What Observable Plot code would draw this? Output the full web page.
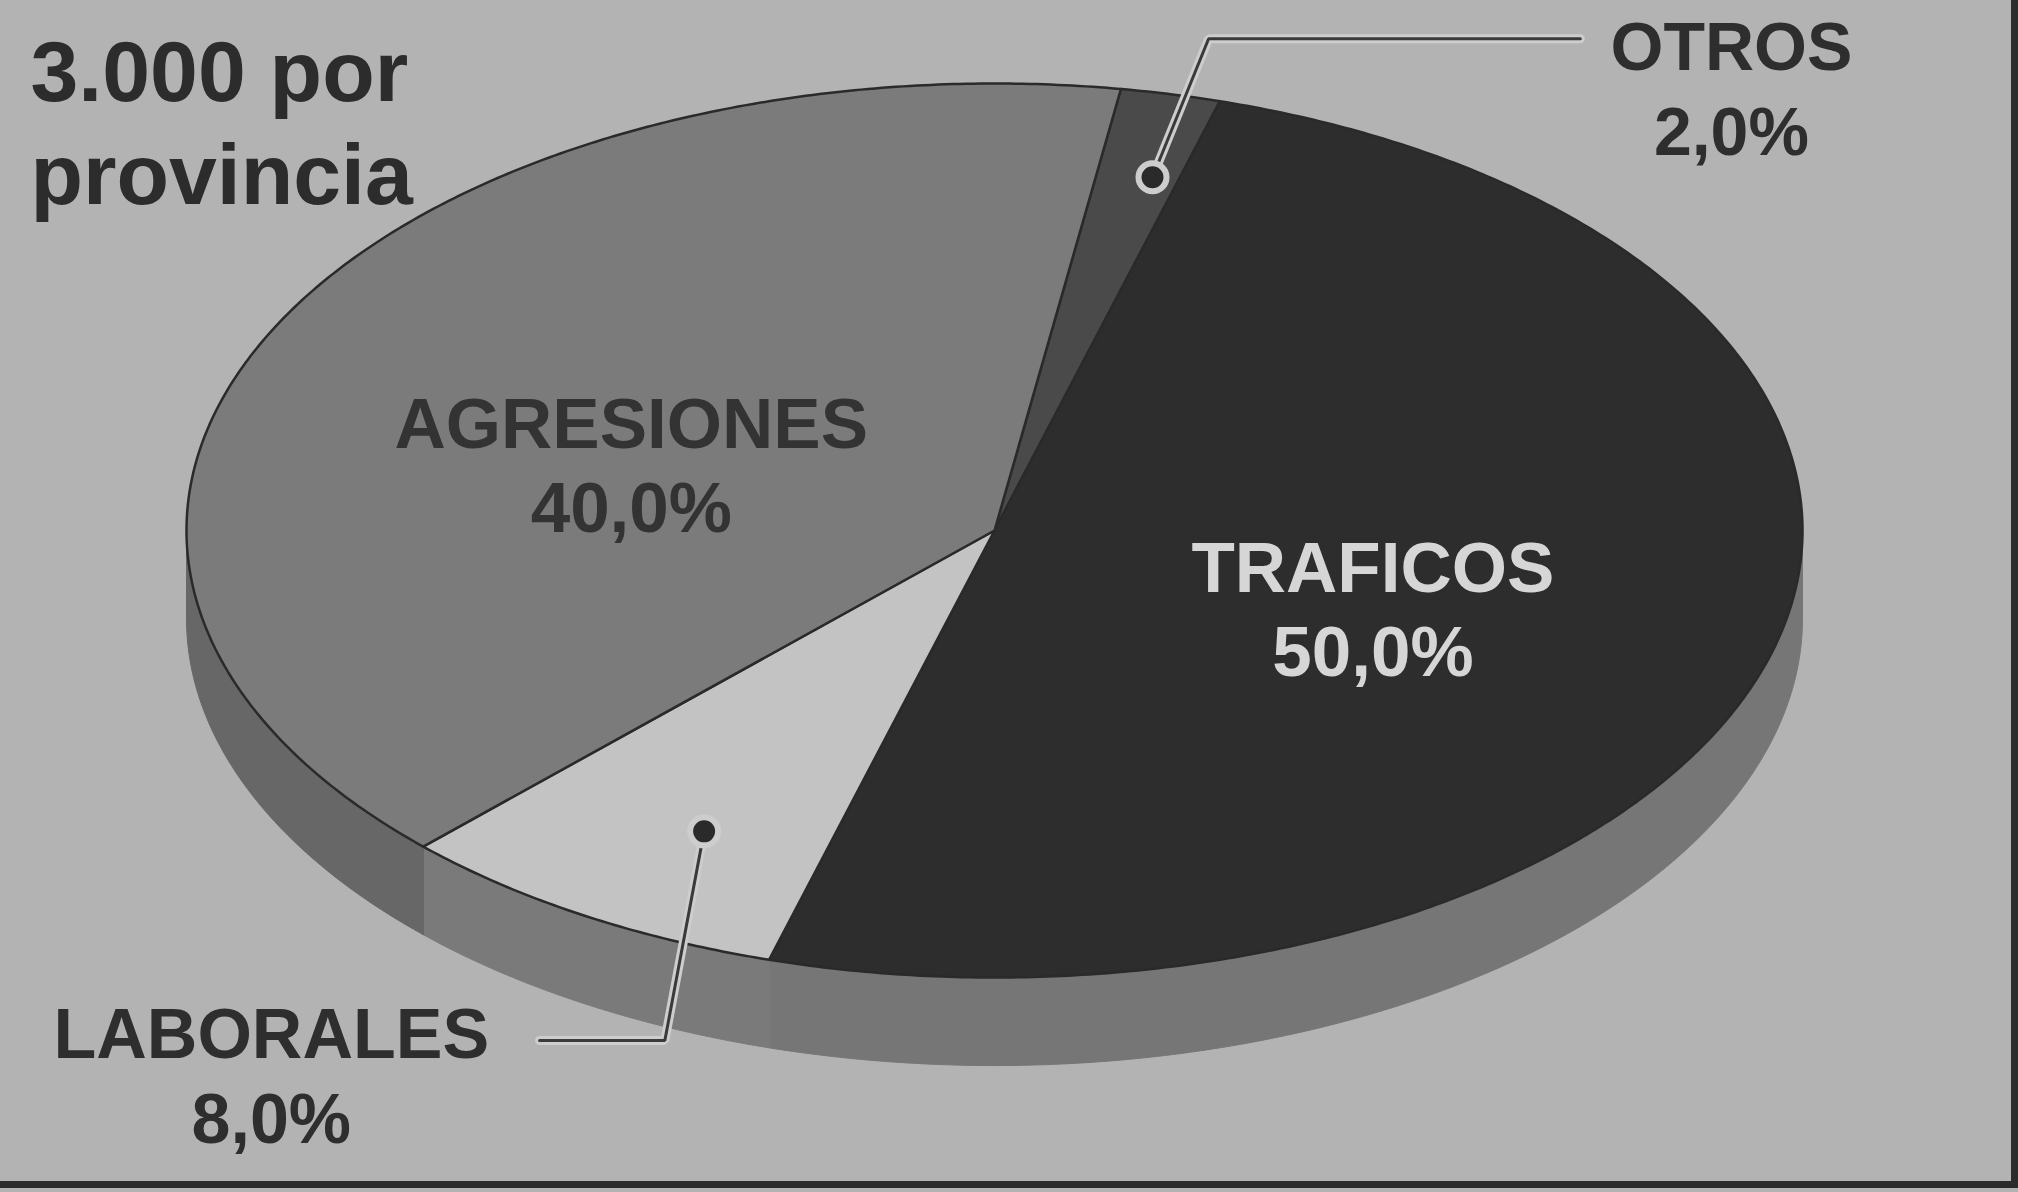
<!DOCTYPE html>
<html>
<head>
<meta charset="utf-8">
<script src="https://cdn.jsdelivr.net/npm/d3@7"></script>
<script src="https://cdn.jsdelivr.net/npm/@observablehq/plot@0.6"></script>
<style>
  html, body { margin: 0; padding: 0; background: #b3b3b3; }
  #wrap { position: relative; width: 2018px; height: 1192px; overflow: hidden; background: #b3b3b3; }
  #wrap svg { position: absolute; left: 0; top: 0; }
  .rule-r { position: absolute; left: 2011px; top: 0; width: 7px; height: 1188px; background: #2c2c2c; }
  .rule-b { position: absolute; left: 0; top: 1181px; width: 2018px; height: 7px; background: #2c2c2c; }
</style>
</head>
<body>
<div id="wrap"></div>
<script>
// ---- data ----
const categories = ["OTROS", "TRAFICOS", "LABORALES", "AGRESIONES"];
const values = [2.0, 50.0, 8.0, 40.0];
const title = "3.000 por\nprovincia";

// ---- styles / layout (kept apart from the data) ----
const topColors  = ["#4a4a4a", "#2d2d2d", "#c3c3c3", "#7b7b7b"];
const sideColors = ["#5a5a5a", "#767676", "#7a7a7a", "#676767"];
const startDeg = 9;          // rotation of the first slice (clockwise from 12 o'clock)
const depth = 0.197;         // pie thickness, in y units
const font = "Liberation Sans, Arial, Helvetica, sans-serif";

const labelLayout = {
  AGRESIONES: {r: 0.474, da: -8.5, size: 71, lh: 1.18, color: "#333333"},
  TRAFICOS:   {r: 0.499, da: 4.0,  size: 71, lh: 1.18, color: "#d6d6d6"},
  OTROS:      {u: 0.912, v: 0.995, size: 68, lh: 1.25, color: "#2e2e2e"},
  LABORALES:  {u: -0.895, v: -1.215, size: 70, lh: 1.214, color: "#2e2e2e"}
};
const leaderLayout = {
  OTROS:     {dotR: 0.814, dotDa: 1.3,  path: [[0.265, 1.10], [0.725, 1.10]]},
  LABORALES: {dotR: 0.763, dotDa: -2.5, path: [[-0.408, -1.141], [-0.563, -1.141]]}
};

// ---- geometry from the data ----
const deg = Math.PI / 180;
const start = startDeg * deg;
const arcs = d3.pie().sort(null).value(d => d)
  .startAngle(start).endAngle(start + 2 * Math.PI)(values);
const slices = categories.map((c, i) => ({
  category: c, value: values[i],
  a0: arcs[i].startAngle, a1: arcs[i].endAngle,
  mid: (arcs[i].startAngle + arcs[i].endAngle) / 2
}));
const pol = (r, a) => ({u: r * Math.sin(a), v: r * Math.cos(a)});
function arcPts(a0, a1, dv = 0) {
  const n = Math.max(2, Math.ceil(Math.abs(a1 - a0) / (0.5 * deg)));
  return d3.range(n + 1).map(k => {
    const a = a0 + (a1 - a0) * k / n;
    return {u: Math.sin(a), v: Math.cos(a) - dv};
  });
}
const topPts = slices.flatMap(s =>
  [{u: 0, v: 0}, ...arcPts(s.a0, s.a1)].map(p => ({...p, key: "top:" + s.category})));
const wallPts = slices.flatMap(s => {
  const lo = Math.max(s.a0, Math.PI / 2), hi = Math.min(s.a1, 3 * Math.PI / 2);
  if (hi <= lo) return [];
  return [...arcPts(lo, hi), ...arcPts(hi, lo, depth)].map(p => ({...p, key: "side:" + s.category}));
});

const fmt = v => v.toFixed(1).replace(".", ",") + "%";

const leaderPts = [];
const dots = [];
for (const s of slices) {
  const L = leaderLayout[s.category];
  if (!L) continue;
  const d = pol(L.dotR, s.mid + L.dotDa * deg);
  dots.push({...d, key: s.category});
  leaderPts.push({...d, key: s.category});
  for (const [u, v] of L.path) leaderPts.push({u, v, key: s.category});
}

const textMarks = slices.map(s => {
  const L = labelLayout[s.category];
  const p = L.u !== undefined ? {u: L.u, v: L.v} : pol(L.r, s.mid + L.da * deg);
  return Plot.text([{...p, label: s.category + "\n" + fmt(s.value)}], {
    x: "u", y: "v", text: "label",
    fontSize: L.size, fontWeight: "bold", fontFamily: font,
    lineHeight: L.lh, textAnchor: "middle", lineAnchor: "middle",
    fill: L.color
  });
});

const colorDomain = [...categories.map(c => "top:" + c), ...categories.map(c => "side:" + c)];
const colorRange = [...topColors, ...sideColors];

const plot = Plot.plot({
  width: 2018,
  height: 1192,
  margin: 0,
  style: {background: "transparent", fontFamily: font},
  x: {domain: [-1, 1], range: [186, 1802], axis: null},
  y: {domain: [-1, 1], range: [977, 83], axis: null},
  color: {type: "ordinal", domain: colorDomain, range: colorRange},
  marks: [
    Plot.line(wallPts, {x: "u", y: "v", z: "key", fill: "key", stroke: "key", strokeWidth: 1, curve: "linear-closed"}),
    Plot.line(topPts, {x: "u", y: "v", z: "key", fill: "key", stroke: "#2a2a2a", strokeWidth: 2.5, strokeLinejoin: "round", curve: "linear-closed"}),
    Plot.line(leaderPts, {x: "u", y: "v", z: "key", stroke: "#cdcdcd", strokeWidth: 9, strokeLinejoin: "miter"}),
    Plot.line(leaderPts, {x: "u", y: "v", z: "key", stroke: "#3a3a3a", strokeWidth: 3, strokeLinejoin: "miter"}),
    Plot.dot(dots, {x: "u", y: "v", r: 14, fill: "#2a2a2a", stroke: "#cdcdcd", strokeWidth: 6}),
    ...textMarks,
    Plot.text([title], {
      frameAnchor: "top-left", textAnchor: "start", lineAnchor: "top",
      dx: 30, dy: 28, fontSize: 86, fontWeight: "bold", fontFamily: font,
      lineHeight: 1.19, fill: "#2c2c2c"
    })
  ]
});

const wrap = document.getElementById("wrap");
wrap.append(plot);
const r1 = document.createElement("div"); r1.className = "rule-r"; wrap.append(r1);
const r2 = document.createElement("div"); r2.className = "rule-b"; wrap.append(r2);
</script>
</body>
</html>
